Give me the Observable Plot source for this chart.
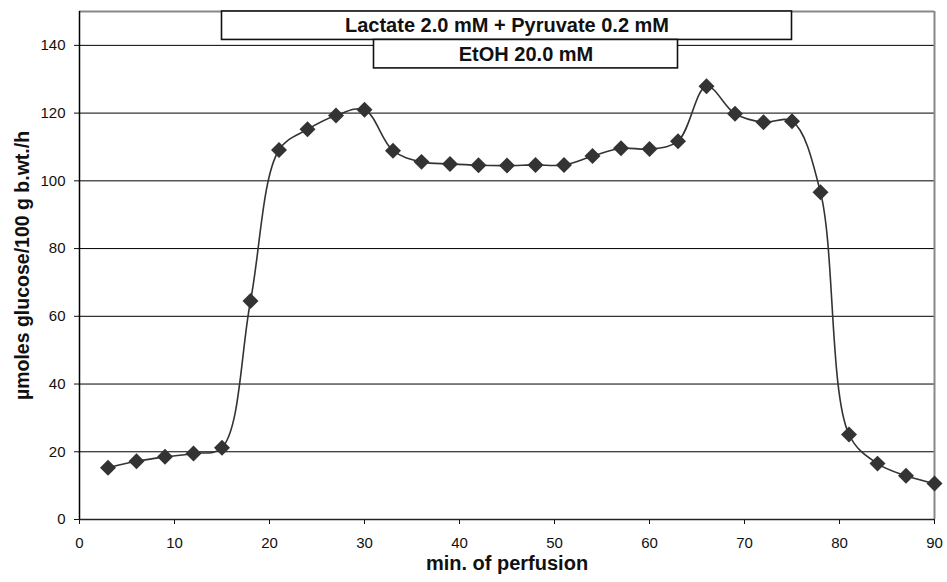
<!DOCTYPE html>
<html>
<head>
<meta charset="utf-8">
<script src="https://cdn.jsdelivr.net/npm/d3@7"></script>
<script src="https://cdn.jsdelivr.net/npm/@observablehq/plot@0.6"></script>
<style>
  body { margin: 0; background: #fff; }
  #chart svg { display: block; }
</style>
</head>
<body>
<div id="chart"></div>
<script>
// Glucose output during perfusion, sampled every 3 minutes
const minutes = [3, 6, 9, 12, 15, 18, 21, 24, 27, 30, 33, 36, 39, 42, 45, 48, 51, 54, 57, 60, 63, 66, 69, 72, 75, 78, 81, 84, 87, 90];
const glucose = [15.3, 17.2, 18.5, 19.5, 21.2, 64.5, 109.1, 115.2, 119.3, 121.0, 108.9, 105.6, 105.0, 104.6, 104.5, 104.7, 104.7, 107.3, 109.6, 109.4, 111.7, 127.9, 119.8, 117.3, 117.6, 96.6, 25.1, 16.5, 12.9, 10.6];

// Substrate infusion periods (minutes)
const periodLabels = ["Lactate 2.0 mM + Pyruvate 0.2 mM", "EtOH 20.0 mM"];
const periodStart = [15, 31];
const periodEnd = [75, 63];

// Axis ticks and titles
const xTicks = [0, 10, 20, 30, 40, 50, 60, 70, 80, 90];
const yTicks = [0, 20, 40, 60, 80, 100, 120, 140];
const yGrid = [20, 40, 60, 80, 100, 120, 140];
const xTitle = "min. of perfusion";
const yTitle = "\u00b5moles glucose/100 g b.wt./h";

const series = minutes.map((m, i) => ({minute: m, value: glucose[i]}));

// Period boxes stacked below the top of the frame
const yMax = 150, rowH = 8.4;
const periods = periodLabels.map((label, i) => ({
  label,
  x1: periodStart[i],
  x2: periodEnd[i],
  y1: yMax - rowH * i,
  y2: yMax - rowH * (i + 1)
}));

const font = "'Liberation Sans', Arial, Helvetica, sans-serif";

const chart = Plot.plot({
  width: 947,
  height: 582,
  marginLeft: 79,
  marginRight: 13,
  marginTop: 11,
  marginBottom: 63,
  style: {fontFamily: font, fontSize: "15px", color: "#111", background: "#fff"},
  x: {domain: [0, 90], ticks: xTicks, tickSize: 5, tickPadding: 13, label: null},
  y: {domain: [0, yMax], ticks: yTicks, tickSize: 5, tickPadding: 9, label: null},
  marks: [
    Plot.ruleY(yGrid, {stroke: "#000", strokeWidth: 1}),
    Plot.ruleY([yMax], {stroke: "#888", strokeWidth: 2}),
    Plot.ruleX([90], {stroke: "#888", strokeWidth: 2}),
    Plot.ruleX([0], {stroke: "#000", strokeWidth: 1.5}),
    Plot.ruleY([0], {stroke: "#222", strokeWidth: 1.5}),
    Plot.line(series, {x: "minute", y: "value", curve: "catmull-rom", stroke: "#333", strokeWidth: 1.6}),
    Plot.dot(series, {x: "minute", y: "value", symbol: "diamond2", r: 7.2, fill: "#333", stroke: "none"}),
    Plot.rect(periods, {x1: "x1", x2: "x2", y1: "y1", y2: "y2", fill: "#fff", stroke: "#111", strokeWidth: 1.6}),
    Plot.text(periods, {
      x: d => (d.x1 + d.x2) / 2,
      y: d => (d.y1 + d.y2) / 2,
      text: "label",
      fontSize: 20,
      fontWeight: "bold",
      fill: "#111"
    }),
    Plot.text([xTitle], {frameAnchor: "bottom", dy: 50, fontSize: 20, fontWeight: "bold", fill: "#111"}),
    Plot.text([yTitle], {frameAnchor: "left", textAnchor: "middle", dx: -57, rotate: -90, fontSize: 19.5, fontWeight: "bold", fill: "#111"})
  ]
});

document.getElementById("chart").appendChild(chart);
</script>
</body>
</html>
